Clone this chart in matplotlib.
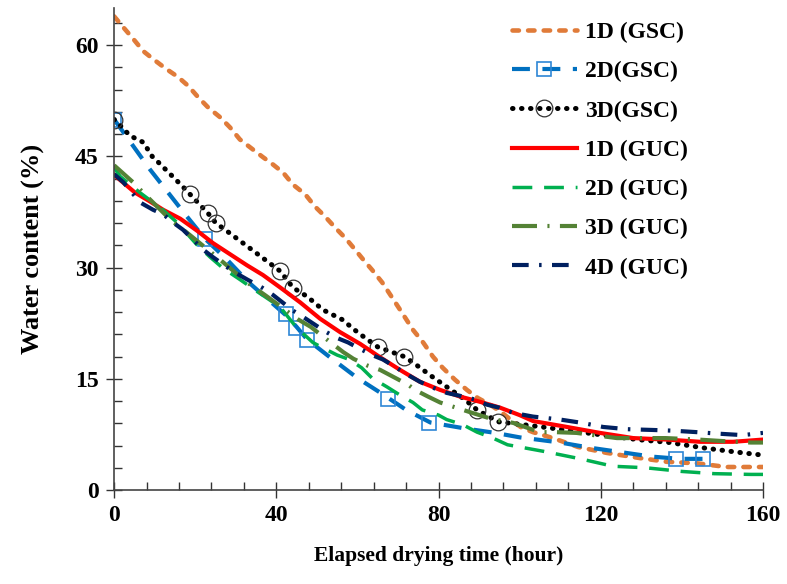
import matplotlib.pyplot as plt
from matplotlib.lines import Line2D
from matplotlib.ticker import MultipleLocator

plt.rcParams["font.family"] = ["Liberation Serif", "DejaVu Serif"]
plt.rcParams["font.weight"] = "bold"

# 1D (GSC)
t_1d_gsc = [0, 2.3, 4.8, 7.2, 9.7, 12.6, 15.8, 18.3, 20.7, 23.2, 26.1, 28.6, 31, 34.3, 36.7, 39.2,
            41.7, 44.1, 47.1, 49.6, 52, 54.5, 57, 59, 61.4, 63.6, 66.1, 68.5, 71, 73.7, 76.2, 78.6,
            81, 84, 87, 89.7, 92.7, 95.2, 98, 100.5, 103.3, 108.2, 114.4, 121.5, 129.7, 136.3,
            143.7, 151, 160]
w_1d_gsc = [63.9, 62.4, 60.8, 59.2, 58.1, 56.9, 55.7, 54.5, 53, 51.6, 50.3, 48.9, 47.3, 45.9, 44.9, 43.9,
            42.8, 41.2, 39.9, 38.2, 36.9, 35.4, 34, 32.7, 31.1, 29.7, 28, 26, 23.9, 21.6, 19.9, 18,
            16.5, 14.9, 13.5, 12.4, 11.5, 10.6, 9.4, 8.4, 7.8, 7, 5.8, 5, 4.3, 3.8,
            3.6, 3.1, 3.1]

# 2D (GSC)
t_2d_gsc = [0, 8.9, 17.5, 22.4, 27.8, 33, 42.5, 45, 47.6, 53, 60, 66, 72, 78, 86.5, 94, 100, 110,
            117.4, 125, 132.6, 139.5, 145.2]
w_2d_gsc = [50, 43.2, 37.2, 33.9, 31.1, 28.1, 23.5, 22, 20.3, 18, 15.1, 13, 10.8, 9.1, 8.3, 7.7, 7.1, 6.4,
            5.7, 5.1, 4.5, 4.2, 4.2]
t_2d_gsc_mk = [0, 22.4, 42.4, 44.9, 47.6, 67.6, 77.7, 138.6, 145.2]
w_2d_gsc_mk = [49.9, 33.9, 23.7, 21.9, 20.3, 12.3, 9.1, 4.2, 4.2]

# 3D (GSC)
t_3d_gsc = [0, 2, 3.9, 7.2, 9.4, 11.3, 16.8, 18.7, 23.2, 25.1, 27.4, 34, 41, 44.1, 47.6, 51.5, 56.2,
            60.2, 65, 71.5, 73.7, 78.4, 82.3, 86.5, 89.5, 94.7, 101, 107, 112.4, 120.6, 129, 137,
            145, 153.6, 160]
w_3d_gsc = [50, 48.9, 47.8, 46.9, 45, 44, 41, 39.9, 37.3, 36, 35.1, 32.4, 29.5, 27.3, 26.1, 24.3, 23,
            21.2, 19.3, 18, 17.2, 15.3, 13.8, 12.2, 10.8, 9.2, 8.8, 8.4, 8, 7.4, 6.8, 6.4,
            5.7, 5.1, 4.7]
t_3d_gsc_mk = [0, 18.7, 23.2, 25.1, 41, 44.1, 65, 71.5, 89.5, 94.7]
w_3d_gsc_mk = [49.9, 39.9, 37.3, 36, 29.5, 27.3, 19.3, 18, 10.8, 9.2]

# 1D (GUC)
t_1d_guc = [0, 5.2, 8.9, 12.1, 16.3, 20.4, 24.4, 28.6, 32.8, 36.7, 41, 45.9, 50.8, 55.7, 60.7, 65.6,
            70.5, 75.4, 80.4, 85.3, 90.2, 95.2, 100, 103.3, 111.7, 119.8, 128, 136.3, 144.5,
            152.6, 160]
w_1d_guc = [42.5, 40.1, 38.9, 37.8, 36.6, 35, 33.3, 31.8, 30.3, 29, 27.3, 25.3, 23.1, 21.3, 19.7, 17.9,
            16.2, 14.6, 13.5, 12.6, 11.9, 11.1, 10.1, 9.3, 8.5, 7.7, 7, 6.8, 6.5,
            6.5, 6.8]

# 2D (GUC)
t_2d_guc = [0, 1.5, 6.4, 12, 15.5, 20.4, 23.7, 26.9, 31, 35.2, 40.9, 45, 49, 51, 55, 58, 61, 63.6,
            67.3, 70.5, 73.7, 76, 80, 82, 86, 89.5, 93.4, 97, 101, 106, 115, 123, 131, 140, 148,
            157, 160]
w_2d_guc = [43.5, 42.3, 40.1, 37.8, 36.1, 33.1, 31.4, 29.9, 28.4, 26.8, 24.7, 21.9, 19.9, 19.3, 18.2, 17.6,
            16.5, 15.1, 13.9, 12.8, 11.8, 10.8, 10.1, 9.5, 8.8, 7.8, 7, 6.1, 5.7, 5.2, 4.2, 3.2,
            3, 2.5, 2.2, 2.1, 2.1]

# 3D (GUC)
t_3d_guc = [0, 4.7, 8.1, 13.8, 18, 25.4, 32.8, 37.7, 42.2, 45.4, 48.5, 50.8, 56.5, 59, 62.4, 65.6,
            72.5, 74.2, 77.4, 80.4, 88.3, 93, 98.4, 105, 109, 114, 124, 130, 136, 144, 150, 157, 160]
w_3d_guc = [43.8, 41.5, 39.6, 36.5, 34.7, 31.4, 28, 26.1, 24.3, 23, 22, 21, 18.6, 17.7, 16.8, 16.2,
            14.2, 13.5, 12.6, 11.8, 10.4, 9.6, 9.05, 7.8, 7.8, 7.7, 7, 7, 7, 6.8, 6.6, 6.4, 6.4]

# 4D (GUC)
t_4d_guc = [0, 2.3, 6.4, 9.6, 12.1, 14.5, 17, 22, 24.4, 29.3, 32.8, 36.5, 39.2, 44.1, 47, 49.5, 52,
            55, 57.7, 60.4, 63.6, 66.3, 69.3, 72.5, 75.4, 78.6, 82, 85.3, 89, 92, 95, 98.4, 103.3,
            110, 115.4, 120.6, 126.5, 132.6, 137.8, 143.7, 148.9, 155, 160]
w_4d_guc = [42.6, 41.5, 38.8, 37.8, 37.2, 36.1, 35.1, 32.4, 31.4, 29.5, 28.4, 27.3, 26.3, 24.2, 23.2,
            22.3, 21.4, 20.5, 19.9, 19.1, 18.2, 17.6, 16.6, 15.5, 14.6, 13.8, 13.1, 12.7, 12.2, 11.5,
            11.1, 10.4, 9.9, 9.5, 9.05, 8.5, 8.2, 8.1, 8, 7.8, 7.6, 7.4, 7.7]

labels = ["1D (GSC)", "2D(GSC)", "3D(GSC)", "1D (GUC)", "2D (GUC)", "3D (GUC)", "4D (GUC)"]

# styles
st_1d_gsc = dict(color="#E07B39", lw=3.3, ls=(0, (1.4, 2.0)), dash_capstyle="round")
st_2d_gsc = dict(color="#0070C0", lw=3, ls=(0, (4.3, 3)))
st_2d_gsc_mk = dict(marker="s", ms=10, mfc="none", mec="#2E86D6", mew=1.2)
st_3d_gsc = dict(color="black", lw=3.6, ls=(0, (0.1, 1.7)), dash_capstyle="round")
st_3d_gsc_mk = dict(marker="o", ms=12, mfc="none", mec="#333333", mew=0.9)
st_1d_guc = dict(color="#FF0000", lw=3)
st_2d_guc = dict(color="#00B050", lw=2.5, ls=(0, (5.7, 3.4)))
st_3d_guc = dict(color="#548235", lw=3, ls=(0, (6, 2.5, 0.5, 2.5)))
st_4d_guc = dict(color="#002060", lw=3, ls=(0, (4, 2.5, 0.6, 2.5)))

fig = plt.figure(figsize=(7.87, 5.84), dpi=100)
ax = fig.add_axes([0.145, 0.161, 0.8245, 0.825])

ax.plot(t_1d_gsc, w_1d_gsc, **st_1d_gsc)
ax.plot(t_2d_gsc, w_2d_gsc, **st_2d_gsc)
ax.plot(t_2d_gsc_mk, w_2d_gsc_mk, ls="None", **st_2d_gsc_mk)
ax.plot(t_3d_gsc, w_3d_gsc, **st_3d_gsc)
ax.plot(t_3d_gsc_mk, w_3d_gsc_mk, ls="None", **st_3d_gsc_mk)
ax.plot(t_1d_guc, w_1d_guc, **st_1d_guc)
ax.plot(t_2d_guc, w_2d_guc, **st_2d_guc)
ax.plot(t_3d_guc, w_3d_guc, **st_3d_guc)
ax.plot(t_4d_guc, w_4d_guc, **st_4d_guc)

ax.set_xlim(0, 160)
ax.set_ylim(0, 65)
ax.xaxis.set_major_locator(MultipleLocator(40))
ax.xaxis.set_minor_locator(MultipleLocator(8))
ax.yaxis.set_major_locator(MultipleLocator(15))
ax.yaxis.set_minor_locator(MultipleLocator(3))
ax.spines["top"].set_visible(False)
ax.spines["right"].set_visible(False)
for s in ["left", "bottom"]:
    ax.spines[s].set_color("#444444")
    ax.spines[s].set_linewidth(1.2)
ax.tick_params(which="major", direction="inout", length=12, width=1, colors="#333333",
               labelsize=17, labelcolor="black", pad=5)
ax.tick_params(which="minor", direction="in", length=6, width=1, colors="#333333")
for lab in ax.get_xticklabels() + ax.get_yticklabels():
    lab.set_fontweight("bold")

ax.set_xlabel("Elapsed drying time (hour)", fontsize=15.5, fontweight="bold", labelpad=14.5)
ax.set_ylabel("Water content (%)", fontsize=19, fontweight="bold", labelpad=22)

# legend proxies (one marker in the middle of the handle)
handles = [
    Line2D([], [], **st_1d_gsc),
    Line2D([], [], **st_2d_gsc, **st_2d_gsc_mk),
    Line2D([], [], **st_3d_gsc, **st_3d_gsc_mk),
    Line2D([], [], **st_1d_guc),
    Line2D([], [], **st_2d_guc),
    Line2D([], [], **st_3d_guc),
    Line2D([], [], **st_4d_guc),
]
ax.legend(handles, labels, loc="upper left", bbox_to_anchor=(0.613, 0.972),
          frameon=False, borderpad=0, borderaxespad=0, handlelength=2.75,
          handletextpad=0.35, labelspacing=0.75, numpoints=1,
          prop={"size": 17, "weight": "bold"})

fig.savefig("out.png", dpi=100)
